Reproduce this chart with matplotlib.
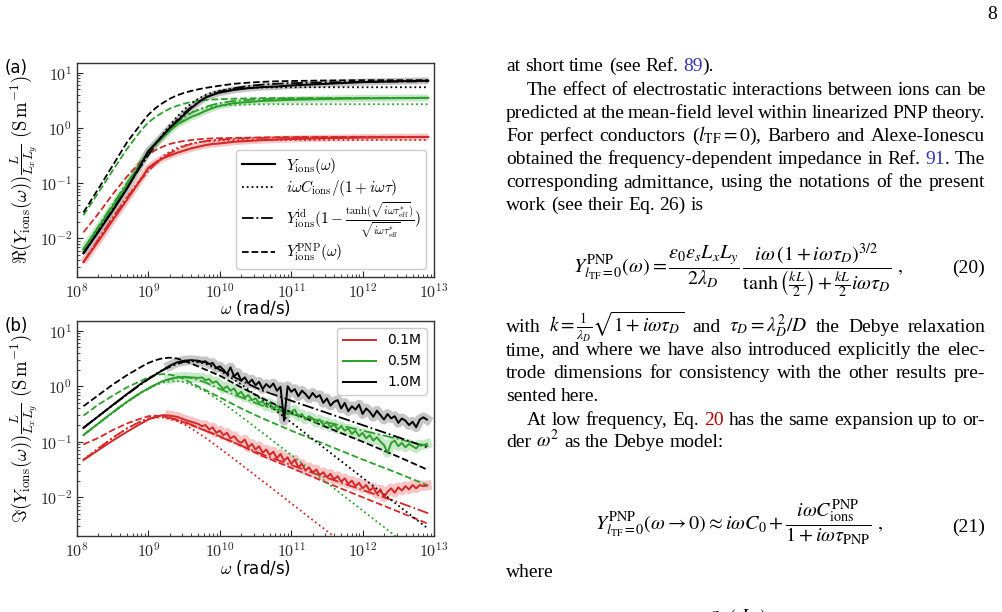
import re
import numpy as np
import matplotlib
matplotlib.use("Agg")
import matplotlib.pyplot as plt
from matplotlib import ticker
from matplotlib.lines import Line2D
from matplotlib.transforms import IdentityTransform

# ---------------------------------------------------------------------------
# Data (all numbers are log10 values: decades)
# ---------------------------------------------------------------------------
# panel (a): real part
log_w_a = [8.09, 8.3, 8.5, 8.7, 8.9, 9.0, 9.1, 9.2, 9.3, 9.4, 9.5, 9.6, 9.7,
           9.8, 9.9, 10.0, 10.2, 10.4, 10.6, 10.8, 11.0, 11.5, 12.0, 12.5, 12.92]

re_data_01 = [-2.43, -2.05, -1.67, -1.30, -0.92, -0.72, -0.63, -0.55, -0.50, -0.45, -0.41, -0.37, -0.34,
              -0.31, -0.29, -0.28, -0.25, -0.235, -0.22, -0.21, -0.20, -0.185, -0.175, -0.168, -0.163]
re_data_05 = [-2.20, -1.80, -1.42, -1.03, -0.62, -0.42, -0.30, -0.17, -0.05, 0.06, 0.13, 0.20, 0.25,
              0.31, 0.36, 0.40, 0.45, 0.47, 0.49, 0.50, 0.51, 0.525, 0.535, 0.54, 0.545]
re_data_10 = [-2.27, -1.88, -1.50, -1.10, -0.65, -0.42, -0.28, -0.14, 0.00, 0.12, 0.24, 0.36, 0.46,
              0.55, 0.60, 0.64, 0.69, 0.72, 0.74, 0.75, 0.77, 0.80, 0.83, 0.845, 0.855]

re_debye_01 = [-2.433, -2.017, -1.627, -1.252, -0.909, -0.758, -0.626, -0.515, -0.427, -0.361, -0.314, -0.281, -0.259,
               -0.244, -0.235, -0.229, -0.222, -0.220, -0.218, -0.218, -0.218, -0.218, -0.218, -0.218, -0.218]
re_debye_05 = [-2.201, -1.783, -1.387, -0.997, -0.620, -0.443, -0.275, -0.123, 0.011, 0.124, 0.214, 0.282, 0.331,
               0.365, 0.388, 0.403, 0.419, 0.426, 0.428, 0.429, 0.43, 0.43, 0.43, 0.43, 0.43]
re_debye_10 = [-2.27, -1.851, -1.453, -1.057, -0.667, -0.477, -0.293, -0.116, 0.05, 0.201, 0.333, 0.443, 0.530,
               0.595, 0.642, 0.675, 0.711, 0.727, 0.733, 0.735, 0.737, 0.737, 0.737, 0.737, 0.737]

re_ideal_01 = [-2.43, -2.02, -1.63, -1.26, -0.93, -0.78, -0.65, -0.55, -0.46, -0.39, -0.33, -0.29, -0.26,
               -0.24, -0.22, -0.21, -0.195, -0.185, -0.18, -0.175, -0.17, -0.167, -0.165, -0.163, -0.162]
re_ideal_05 = [-2.20, -1.79, -1.39, -1.00, -0.63, -0.45, -0.29, -0.14, -0.01, 0.10, 0.19, 0.27, 0.33,
               0.38, 0.42, 0.45, 0.49, 0.51, 0.52, 0.53, 0.535, 0.54, 0.545, 0.545, 0.545]
re_ideal_10 = [-2.27, -1.87, -1.47, -1.07, -0.68, -0.49, -0.31, -0.15, 0.00, 0.14, 0.27, 0.38, 0.47,
               0.55, 0.61, 0.66, 0.72, 0.76, 0.785, 0.80, 0.81, 0.825, 0.835, 0.84, 0.845]

re_pnp_01 = [-1.89, -1.55, -1.20, -0.88, -0.60, -0.48, -0.40, -0.34, -0.29, -0.26, -0.235, -0.22, -0.205,
             -0.195, -0.19, -0.185, -0.18, -0.175, -0.17, -0.168, -0.165, -0.163, -0.16, -0.16, -0.16]
re_pnp_05 = [-1.58, -1.17, -0.77, -0.38, -0.04, 0.10, 0.20, 0.28, 0.35, 0.40, 0.44, 0.47, 0.49,
             0.505, 0.515, 0.52, 0.53, 0.535, 0.54, 0.54, 0.54, 0.54, 0.54, 0.54, 0.54]
re_pnp_10 = [-1.53, -1.10, -0.68, -0.26, 0.08, 0.24, 0.36, 0.45, 0.53, 0.59, 0.635, 0.67, 0.70,
             0.725, 0.745, 0.765, 0.80, 0.82, 0.835, 0.845, 0.85, 0.86, 0.865, 0.865, 0.865]

# panel (b): imaginary part, simulation data (noisy above a few 1e9 rad/s)
log_w_b_data = [8.09, 8.3, 8.5, 8.7, 8.9, 9.0, 9.1, 9.2, 9.3, 9.4, 9.5, 9.6,
                9.70, 9.75, 9.80, 9.85, 9.90, 9.95, 10.00, 10.05, 10.10, 10.15, 10.20, 10.25,
                10.30, 10.35, 10.40, 10.45, 10.50, 10.55, 10.60, 10.65, 10.70, 10.75, 10.80, 10.85,
                10.90, 10.95, 11.00, 11.05, 11.10, 11.15, 11.20, 11.25, 11.30, 11.35, 11.40, 11.45,
                11.50, 11.55, 11.60, 11.65, 11.70, 11.75, 11.80, 11.85, 11.90, 11.95, 12.00, 12.05,
                12.10, 12.15, 12.20, 12.25, 12.30, 12.35, 12.40, 12.45, 12.50, 12.55, 12.60, 12.65,
                12.70, 12.75, 12.80, 12.85, 12.90]

im_data_01 = [-1.33, -1.15, -0.98, -0.82, -0.67, -0.60, -0.55, -0.52, -0.53, -0.55, -0.60, -0.64,
              -0.68, -0.72, -0.70, -0.78, -0.74, -0.84, -0.80, -0.88, -0.84, -0.94, -0.90, -0.98,
              -1.02, -0.96, -1.10, -1.04, -1.14, -1.08, -1.20, -1.14, -1.24, -1.18, -1.30, -1.22,
              -1.34, -1.28, -1.40, -1.32, -1.46, -1.40, -1.52, -1.46, -1.56, -1.50, -1.60, -1.55,
              -1.64, -1.58, -1.68, -1.62, -1.72, -1.66, -1.76, -1.70, -1.80, -1.74, -1.84, -1.78,
              -1.88, -1.82, -1.94, -1.86, -2.00, -1.90, -1.84, -1.92, -1.82, -1.88, -1.80, -1.86,
              -1.78, -1.84, -1.78, -1.80, -1.79]
im_data_05 = [-0.88, -0.67, -0.47, -0.28, -0.11, -0.04, 0.03, 0.09, 0.13, 0.16, 0.17, 0.16,
              0.15, 0.16, 0.11, 0.13, 0.06, 0.09, 0.02, -0.05, 0.00, -0.08, -0.04, -0.15,
              -0.10, -0.20, -0.16, -0.25, -0.22, -0.30, -0.27, -0.36, -0.30, -0.40, -0.35, -0.44,
              -0.40, -0.50, -0.46, -0.42, -0.55, -0.50, -0.60, -0.54, -0.58, -0.66, -0.60, -0.70,
              -0.64, -0.74, -0.68, -0.78, -0.72, -0.80, -0.76, -0.86, -0.80, -0.90, -0.84, -0.94,
              -0.88, -0.98, -0.92, -1.00, -1.06, -1.20, -1.02, -0.98, -1.08, -1.02, -1.10, -1.04,
              -1.08, -1.12, -1.05, -1.06, -1.04]
im_data_10 = [-0.75, -0.54, -0.34, -0.14, 0.05, 0.13, 0.21, 0.29, 0.37, 0.43, 0.46, 0.47,
              0.46, 0.44, 0.45, 0.40, 0.42, 0.33, 0.36, 0.30, 0.22, 0.34, 0.18, 0.24,
              0.10, 0.16, 0.05, 0.12, 0.02, 0.08, -0.05, 0.04, -0.02, 0.05, -0.08, -0.01,
              -0.62, 0.00, -0.10, -0.05, -0.18, -0.08, -0.14, -0.22, -0.12, -0.20, -0.16, -0.30,
              -0.22, -0.35, -0.28, -0.25, -0.40, -0.30, -0.45, -0.36, -0.42, -0.33, -0.50, -0.40,
              -0.46, -0.55, -0.44, -0.52, -0.60, -0.50, -0.58, -0.54, -0.66, -0.58, -0.62, -0.70,
              -0.64, -0.74, -0.60, -0.56, -0.60]

# panel (b): imaginary part, models
log_w_b = [8.09, 8.3, 8.5, 8.7, 8.9, 9.0, 9.1, 9.2, 9.3, 9.4, 9.5, 9.6, 9.8,
           10.0, 10.3, 10.6, 11.0, 11.5, 12.0, 12.5, 12.92]

im_debye_01 = [-1.32, -1.12, -0.93, -0.76, -0.63, -0.585, -0.563, -0.563, -0.586, -0.628, -0.688, -0.76, -0.93,
               -1.118, -1.411, -1.709, -2.109, -2.609, -3.11, -3.61, -4.03]
im_debye_05 = [-0.881, -0.673, -0.478, -0.29, -0.118, -0.044, 0.018, 0.063, 0.089, 0.093, 0.073, 0.033, -0.095,
               -0.262, -0.546, -0.841, -1.24, -1.74, -2.24, -2.74, -3.16]
im_debye_10 = [-0.75, -0.541, -0.343, -0.147, 0.043, 0.133, 0.218, 0.295, 0.361, 0.412, 0.444, 0.454, 0.407,
               0.287, 0.033, -0.254, -0.651, -1.15, -1.65, -2.15, -2.57]

im_ideal_01 = [-1.33, -1.12, -0.93, -0.76, -0.63, -0.58, -0.56, -0.555, -0.57, -0.60, -0.64, -0.69, -0.80,
               -0.91, -1.07, -1.23, -1.42, -1.65, -1.87, -2.09, -2.29]
im_ideal_05 = [-0.88, -0.67, -0.47, -0.28, -0.11, -0.04, 0.03, 0.09, 0.13, 0.15, 0.16, 0.15, 0.07,
               -0.05, -0.20, -0.35, -0.50, -0.65, -0.80, -0.95, -1.08]
im_ideal_10 = [-0.75, -0.54, -0.34, -0.15, 0.04, 0.13, 0.21, 0.29, 0.35, 0.40, 0.44, 0.46, 0.43,
               0.30, 0.10, -0.08, -0.26, -0.48, -0.70, -0.92, -1.11]

im_pnp_01 = [-1.05, -0.93, -0.79, -0.67, -0.58, -0.54, -0.53, -0.54, -0.57, -0.61, -0.65, -0.70, -0.80,
             -0.90, -1.07, -1.26, -1.47, -1.74, -2.00, -2.26, -2.48]
im_pnp_05 = [-0.53, -0.33, -0.17, -0.02, 0.10, 0.16, 0.20, 0.22, 0.21, 0.18, 0.13, 0.06, -0.07,
             -0.20, -0.40, -0.58, -0.80, -1.06, -1.32, -1.57, -1.79]
im_pnp_10 = [-0.36, -0.16, 0.03, 0.20, 0.35, 0.42, 0.47, 0.505, 0.515, 0.50, 0.46, 0.41, 0.30,
             0.19, -0.02, -0.22, -0.47, -0.74, -1.00, -1.27, -1.51]

conc_labels = ["0.1M", "0.5M", "1.0M"]
colors = ["#d62728", "#2ca02c", "black"]
band_colors = ["#f0a0a0", "#a6d8a6", "#a0a0a0"]

# ---------------------------------------------------------------------------
plt.rcParams["mathtext.fontset"] = "cm"
plt.rcParams["font.family"] = "DejaVu Sans"

W, H = 1003, 612
fig = plt.figure(figsize=(W / 100, H / 100), dpi=100)


def dec(v):
    return 10.0 ** np.asarray(v)


def style_axes(ax, ylabel):
    ax.set_xscale("log")
    ax.set_yscale("log")
    ax.set_xlim(1e8, 1e13)
    ax.set_ylim(2e-3, 15)
    fmt = ticker.FuncFormatter(lambda v, p: r"$10^{%d}$" % round(np.log10(v)))
    ax.xaxis.set_major_formatter(fmt)
    ax.yaxis.set_major_formatter(fmt)
    ax.xaxis.set_major_locator(ticker.LogLocator(base=10, numticks=10))
    ax.tick_params(which="both", direction="in", top=False, right=False, labelsize=11.5, colors="0.15")
    ax.tick_params(which="major", length=4)
    ax.tick_params(which="minor", length=2)
    for s in ax.spines.values():
        s.set_color("0.2")
        s.set_linewidth(1.0)
    ax.set_xlabel(r"$\omega$ (rad/s)", fontsize=12)
    ax.set_ylabel(ylabel, fontsize=13.5)
    ax.xaxis.set_label_coords(0.5, -0.1)
    ax.yaxis.set_label_coords(-0.105, 0.5)


# panel (a)
ax_a = fig.add_axes([77 / W, 1 - 277 / H, 357 / W, 214 / H])
wa = dec(log_w_a)
re_data = [re_data_01, re_data_05, re_data_10]
re_debye = [re_debye_01, re_debye_05, re_debye_10]
re_ideal = [re_ideal_01, re_ideal_05, re_ideal_10]
re_pnp = [re_pnp_01, re_pnp_05, re_pnp_10]
for i in range(3):
    ax_a.plot(wa, dec(re_data[i]), color=band_colors[i], lw=5, alpha=0.6, solid_capstyle="butt", zorder=1)
    ax_a.plot(wa, dec(re_data[i]), color=colors[i], lw=1.5, zorder=3)
    ax_a.plot(wa, dec(re_debye[i]), color=colors[i], lw=1.3, ls=":", zorder=2)
    ax_a.plot(wa, dec(re_ideal[i]), color=colors[i], lw=1.3, ls="-.", zorder=2)
    ax_a.plot(wa, dec(re_pnp[i]), color=colors[i], lw=1.3, ls="--", zorder=2)
style_axes(ax_a, r"$\Re(Y_{\rm ions}(\omega))\frac{L}{L_xL_y}\ (\mathrm{S\,m^{-1}})$")

handles = [Line2D([], [], color="k", lw=1.5, ls="-"),
           Line2D([], [], color="k", lw=1.3, ls=":"),
           Line2D([], [], color="k", lw=1.3, ls="-."),
           Line2D([], [], color="k", lw=1.3, ls="--")]
labels = [r"$Y_{\rm ions}(\omega)$",
          r"$i\omega C_{\rm ions}/(1+i\omega\tau)$",
          r"$Y^{\rm id}_{\rm ions}(1-\frac{\tanh(\sqrt{i\omega\tau^{*}_{\rm eff}})}{\sqrt{i\omega\tau^{*}_{\rm eff}}})$",
          r"$Y^{\rm PNP}_{\rm ions}(\omega)$"]
leg = ax_a.legend(handles, labels, loc="lower right", fontsize=11, handlelength=2.2,
                  labelspacing=0.15, borderpad=0.35, handletextpad=0.7,
                  framealpha=1.0, edgecolor="0.8")

# panel (b)
ax_b = fig.add_axes([77 / W, 1 - 536 / H, 357 / W, 215 / H])
wbd = dec(log_w_b_data)
wb = dec(log_w_b)
im_data = [im_data_01, im_data_05, im_data_10]
im_debye = [im_debye_01, im_debye_05, im_debye_10]
im_ideal = [im_ideal_01, im_ideal_05, im_ideal_10]
im_pnp = [im_pnp_01, im_pnp_05, im_pnp_10]
for i in range(3):
    ax_b.plot(wbd[8:], dec(im_data[i][8:]), color=band_colors[i], lw=7, alpha=0.6, zorder=1)
    ax_b.plot(wbd, dec(im_data[i]), color=colors[i], lw=1.4, zorder=3, label=conc_labels[i])
    ax_b.plot(wb, dec(im_debye[i]), color=colors[i], lw=1.3, ls=":", zorder=2)
    ax_b.plot(wb, dec(im_ideal[i]), color=colors[i], lw=1.3, ls="-.", zorder=2)
    ax_b.plot(wb, dec(im_pnp[i]), color=colors[i], lw=1.3, ls="--", zorder=2)
style_axes(ax_b, r"$\Im(Y_{\rm ions}(\omega))\frac{L}{L_xL_y}\ (\mathrm{S\,m^{-1}})$")
ax_b.legend(loc="upper right", fontsize=10, handlelength=2.4, framealpha=1.0, edgecolor="0.8")

fig.text(5 / W, 1 - 59 / H, "(a)", fontsize=12, va="top")
fig.text(5 / W, 1 - 317 / H, "(b)", fontsize=12, va="top")

# ---------------------------------------------------------------------------
# page text on the right
# ---------------------------------------------------------------------------
BODY = 14
SERIF = "Liberation Serif"
LINK = {"b": "#3535b5", "r": "#b00000"}
renderer = fig.canvas.get_renderer()


def split_words(s):
    out, cur, inmath = [], "", False
    for ch in s:
        if ch == "$":
            inmath = not inmath
        if ch == " " and not inmath:
            if cur:
                out.append(cur)
            cur = ""
        else:
            cur += ch
    if cur:
        out.append(cur)
    return out


def page_line(y, text, x0=506, x1=985, justify=True):
    placed = []
    for word in split_words(text):
        parts = []
        x = 0.0
        for seg in re.split(r"(<[br]>.*?</[br]>)", word):
            if not seg:
                continue
            color = "black"
            m = re.match(r"<([br])>(.*?)</[br]>", seg)
            if m:
                color = LINK[m.group(1)]
                seg = m.group(2)
            t = fig.text(0, 0, seg, transform=IdentityTransform(), fontsize=BODY, family=SERIF,
                         math_fontfamily="stix", color=color, va="baseline", ha="left")
            wd = t.get_window_extent(renderer).width
            parts.append((t, x))
            x += wd
        placed.append((parts, x))
    total = sum(p[1] for p in placed)
    if justify and len(placed) > 1:
        gap = (x1 - x0 - total) / (len(placed) - 1)
    else:
        gap = 0.25 * BODY * 100 / 72
    xc = x0
    for parts, wd in placed:
        for t, off in parts:
            t.set_position((xc + off, H - y))
        xc += wd + gap


def page_math(x, y, s, ha="left", size=BODY):
    fig.text(x, H - y, s, transform=IdentityTransform(), fontsize=size, family=SERIF,
             math_fontfamily="stix", va="baseline", ha=ha)


page_math(997, 19, "8", ha="right")

page_line(71, "at short time (see Ref. <b>89</b>).", justify=False)
page_line(95, "The effect of electrostatic interactions between ions can be", x0=527)
page_line(118, "predicted at the mean-field level within linearized PNP theory.")
page_line(141, r"For perfect conductors ($l_{\rm TF}=0$), Barbero and Alexe-Ionescu")
page_line(164, "obtained the frequency-dependent impedance in Ref. <b>91</b>. The")
page_line(187, "corresponding admittance, using the notations of the present")
page_line(210, "work (see their Eq. 26) is", justify=False)

page_math(573, 273, r"$Y^{\rm PNP}_{l_{\rm TF}=0}(\omega) = \dfrac{\varepsilon_0\varepsilon_s L_x L_y}{2\lambda_D}"
                    r"\,\dfrac{i\omega\,(1+i\omega\tau_D)^{3/2}}{\tanh\left(\frac{kL}{2}\right)+\frac{kL}{2}i\omega\tau_D}\ ,$",
          size=14.5)
page_math(985, 273, "(20)", ha="right")

page_line(332, r"with $k=\frac{1}{\lambda_D}\sqrt{1+i\omega\tau_D}$ and $\tau_D=\lambda_D^2/D$ the Debye relaxation")
page_line(355, "time, and where we have also introduced explicitly the elec-")
page_line(378, "trode dimensions for consistency with the other results pre-")
page_line(401, "sented here.", justify=False)
page_line(425, "At low frequency, Eq. <r>20</r> has the same expansion up to or-", x0=527)
page_line(447, r"der $\omega^2$ as the Debye model:", justify=False)

page_math(595, 530, r"$Y^{\rm PNP}_{l_{\rm TF}=0}(\omega\rightarrow 0) \approx i\omega C_0 + "
                    r"\dfrac{i\omega C^{\rm PNP}_{\rm ions}}{1+i\omega\tau_{\rm PNP}}\ ,$", size=14.5)
page_math(985, 532, "(21)", ha="right")

page_line(577, "where", justify=False)
page_math(648, 630, r"$C^{\rm PNP}_{\rm ions} = \frac{C_0}{2}\left(\dfrac{L}{\lambda_D}\right)$")

fig.savefig("out.png", dpi=100)
